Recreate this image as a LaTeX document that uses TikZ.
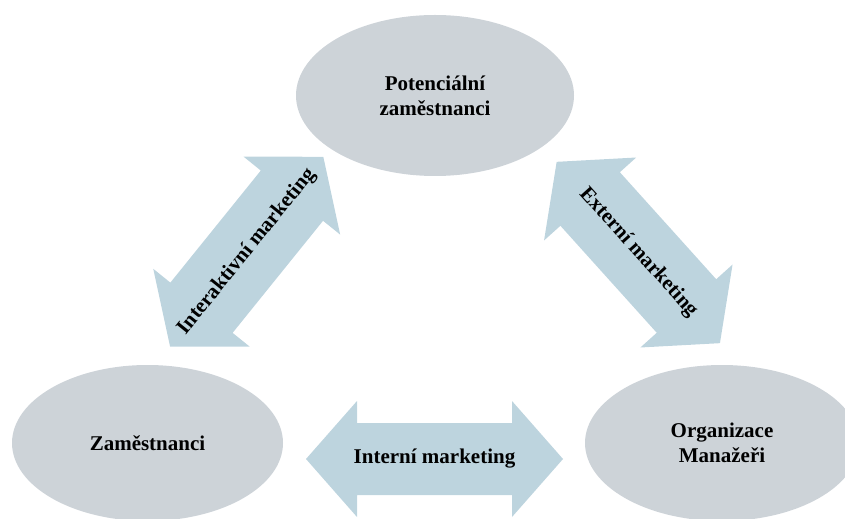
\documentclass[tikz,border=0pt]{standalone}
\usepackage{fontspec}
\setmainfont{Liberation Serif}
\usetikzlibrary{shapes.geometric}
\definecolor{bubblegray}{RGB}{205,211,216}
\definecolor{arrowblue}{RGB}{189,212,222}
\newcommand\labelfont{\bfseries\fontsize{15.75}{18.75}\selectfont}
\begin{document}
\begin{tikzpicture}[x=0.75pt,y=0.75pt,
  bubble/.style={ellipse, fill=bubblegray, inner sep=0pt, align=center, font=\labelfont},
  arrowlabel/.style={font=\labelfont, inner sep=0pt},
  % double-headed block arrow: half length, head length, head half-width, shaft half-width
  pics/twoway/.style n args={4}{code={
    \fill[arrowblue] (-#1,0) -- ({-#1+#2},#3) -- ({-#1+#2},#4) -- ({#1-#2},#4)
      -- ({#1-#2},#3) -- (#1,0) -- ({#1-#2},-#3) -- ({#1-#2},-#4)
      -- ({-#1+#2},-#4) -- ({-#1+#2},-#3) -- cycle;}}]
\useasboundingbox (0,0) rectangle (845,518);
\clip (0,0) rectangle (845,518);

% the three groups
\node[bubble, minimum width=208.5pt, minimum height=120.75pt] (potential) at (435,422.5)
  {Potenciální\\zaměstnanci};
\node[bubble, minimum width=203.25pt, minimum height=117pt] (staff) at (147.5,75)
  {Zaměstnanci};
\node[bubble, minimum width=205.5pt, minimum height=117pt] (org) at (722,75)
  {Organizace\\Manažeři};

% relations between them
\pic[rotate=51.1] at (246.7,266.3) {twoway={122}{50}{62}{40}};
\node[arrowlabel, rotate=51.1] (interactive) at (246.7,266.3) {Interaktivní marketing};

\pic[rotate=-48] at (638.3,265.5) {twoway={122}{50}{62}{40}};
\node[arrowlabel, rotate=-48] (external) at (638.3,265.5) {Externí marketing};

\pic at (434.5,59) {twoway={128.5}{51}{58}{36}};
\node[arrowlabel] (internal) at (434.5,59) {Interní marketing};
\end{tikzpicture}
\end{document}
